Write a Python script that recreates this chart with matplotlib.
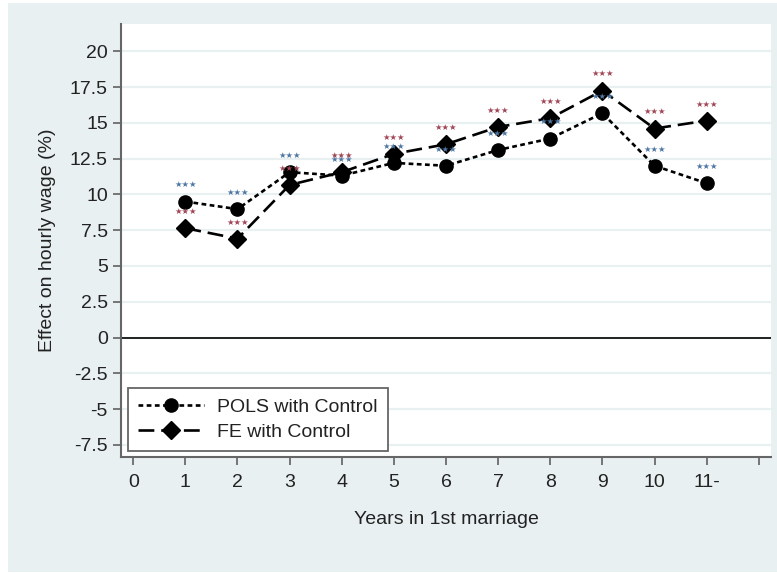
import matplotlib.pyplot as plt
from matplotlib.patches import Rectangle
import numpy as np

plt.rcParams["font.family"] = ["Liberation Sans", "DejaVu Sans"]

years = [1, 2, 3, 4, 5, 6, 7, 8, 9, 10, 11]
tick_pos = [0, 1, 2, 3, 4, 5, 6, 7, 8, 9, 10, 11, 12]
tick_labels = ["0", "1", "2", "3", "4", "5", "6", "7", "8", "9", "10", "11-", ""]

pols = [9.50, 8.97, 11.55, 11.31, 12.2, 12.0, 13.1, 13.9, 15.67, 12.0, 10.78]
fe = [7.64, 6.91, 10.66, 11.55, 12.83, 13.5, 14.71, 15.32, 17.25, 14.6, 15.15]
pols_sig = ["***"] * 11
fe_sig = ["***"] * 11

bg = "#e8f0f2"
txt = "#222222"

fig = plt.figure(figsize=(7.77, 5.73), dpi=100, facecolor="white")
fig.patches.append(Rectangle((8 / 777, 0.002), 1 - 8 / 777, 0.993, transform=fig.transFigure,
                             facecolor=bg, edgecolor="none", zorder=-10))
ax = fig.add_axes([121 / 777, 1 - 457 / 573, 650 / 777, 433 / 573])
ax.set_facecolor("white")

ax.set_xlim(-0.235, 12.235)
ax.set_ylim(-8.34, 21.9)
ax.set_yticks(np.arange(-7.5, 20.1, 2.5))
ax.set_yticklabels(["-7.5", "-5", "-2.5", "0", "2.5", "5", "7.5", "10", "12.5", "15", "17.5", "20"])
ax.set_xticks(tick_pos)
ax.set_xticklabels(tick_labels)
ax.grid(axis="y", color=bg, lw=1.6)
ax.set_axisbelow(True)
ax.axhline(0, color="#111111", lw=1.3, zorder=1)

for side in ["top", "right"]:
    ax.spines[side].set_visible(False)
for side in ["left", "bottom"]:
    ax.spines[side].set_color("#666666")
    ax.spines[side].set_linewidth(1.5)
ax.tick_params(axis="both", colors="#555555", labelcolor=txt, labelsize=14, length=6, width=1.1)
ax.tick_params(axis="y", pad=3.5)
ax.tick_params(axis="x", pad=6)

ax.plot(years, pols, color="black", lw=1.9, linestyle=(0, (1.8, 1.3)),
        marker="o", markersize=9.5, label="POLS with Control", zorder=3)
ax.plot(years, fe, color="black", lw=1.9, linestyle=(0, (6, 2.6)),
        marker="D", markersize=9.5, label="FE with Control", zorder=3)

# significance stars above each estimate
for x, y, s in zip(years, pols, pols_sig):
    ax.annotate(s.replace("*", "\u2605"), (x, y), xytext=(0, 12), textcoords="offset points",
                ha="center", va="center", fontsize=6, color="#4f77a3",
                family="DejaVu Sans", zorder=4)
for x, y, s in zip(years, fe, fe_sig):
    ax.annotate(s.replace("*", "\u2605"), (x, y), xytext=(0, 12), textcoords="offset points",
                ha="center", va="center", fontsize=6, color="#a04656",
                family="DejaVu Sans", zorder=4)

ax.set_ylabel("Effect on hourly wage (%)", fontsize=14, color=txt)
ax.set_xlabel("Years in 1st marriage", fontsize=14, color=txt)
ax.yaxis.set_label_coords(-0.1, 0.5)
ax.xaxis.set_label_coords(0.5, -0.125)
ax.xaxis.label.set_va("top")

leg = ax.legend(loc="lower left", bbox_to_anchor=(7 / 650, 6 / 433), fontsize=14,
                frameon=True, fancybox=False, edgecolor="#666666", framealpha=1,
                handlelength=3.4, handletextpad=0.7, borderpad=0.5, labelspacing=0.42,
                borderaxespad=0)
leg.get_frame().set_linewidth(1.3)
for t in leg.get_texts():
    t.set_color(txt)

fig.savefig("out.png", dpi=100, facecolor=fig.get_facecolor())
